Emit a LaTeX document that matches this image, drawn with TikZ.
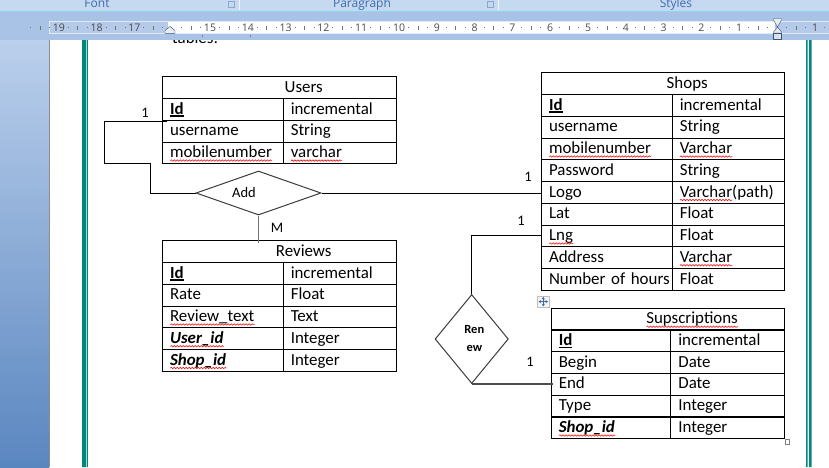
\documentclass[tikz,border=0pt]{standalone}
\usepackage{fontspec}
\setmainfont{Carlito}
\newfontfamily\uifont{Open Sans}
\usepackage{tikz}
\usetikzlibrary{shapes.geometric,decorations.pathmorphing,arrows.meta}

\definecolor{ribbon}{HTML}{C5D9F1}
\definecolor{rulerband}{HTML}{A9C3E6}
\definecolor{rulergray}{HTML}{B4CAE8}
\definecolor{cyanline}{HTML}{8FD6EC}
\definecolor{uiblue}{HTML}{3F6BAA}
\definecolor{deskhi}{HTML}{BBD0EC}
\definecolor{desklo}{HTML}{5A86C0}
\definecolor{pageteal}{HTML}{00897B}
\definecolor{diagray}{HTML}{3C3C3C}

\newcommand\tabfont{\fontsize{16.9pt}{20pt}\selectfont}
\newcommand\lblfont{\fontsize{14.5pt}{17pt}\selectfont}
\newlength\wavylen
\newcommand\wavy[1]{\settowidth\wavylen{#1}\rlap{\tikz[baseline=0pt]\draw[red,line width=.55pt,decorate,decoration={snake,amplitude=.75pt,segment length=3pt}] (0pt,-3pt) -- (\wavylen,-3pt);}#1}
\newcommand\pk[1]{\settowidth\wavylen{\textbf{#1}}\rlap{\rule[-2.6pt]{\wavylen}{1.3pt}}\textbf{#1}}
\newcommand\fk[1]{\wavy{\textbf{\textit{#1}}}}

\begin{document}
\begin{tikzpicture}[x=1pt,y=-1pt,
  head/.style={draw,line width=1.1pt,anchor=north west,minimum height=21.75pt,inner sep=0pt},
  cell/.style={draw,line width=1.1pt,anchor=north west,minimum height=21.75pt,inner xsep=7.5pt,inner ysep=0pt,text height=12.5pt,text depth=3.3pt,align=left,font=\tabfont},
  title/.style={inner sep=0pt,text height=12.5pt,text depth=3.3pt,font=\tabfont},
  rel/.style={diamond,draw=diagray,line width=1pt,inner sep=0pt},
  lbl/.style={inner sep=0pt,font=\lblfont},
  link/.style={line width=1pt},
  rulernum/.style={inner sep=0pt,font=\uifont\fontsize{10.5pt}{12pt}\selectfont,text=black!70}]

\useasboundingbox (0,0) rectangle (829,467);

    % Word window
	\fill [ribbon] (0,0) rectangle (829,10.5);
	\draw [white!70!ribbon] (239.5,0) -- (239.5,10) (498.5,0) -- (498.5,10);
	\node [anchor=base,inner sep=0pt,font=\uifont\fontsize{12pt}{14pt}\selectfont,text=uiblue] at (97,7.5) (grp-font) {Font};
	\node [anchor=base,inner sep=0pt,font=\uifont\fontsize{12pt}{14pt}\selectfont,text=uiblue] at (362,7.5) (grp-para) {Paragraph};
	\node [anchor=base,inner sep=0pt,font=\uifont\fontsize{12pt}{14pt}\selectfont,text=uiblue] at (676,7.5) (grp-styles) {Styles};
	\draw [uiblue!60] (228.5,1.5) rectangle (234.5,7.5) (487.5,1.5) rectangle (493.5,7.5);
	\fill [rulerband] (0,10.5) rectangle (829,40);
	\draw [cyanline,line width=1.2pt] (0,11.6) -- (829,11.6);

    % Ruler
	\fill [rulergray] (49,21.5) rectangle (829,33.5);
	\fill [white] (168,21.5) rectangle (775,33.5);
	\draw [white!60!rulergray] (49,21.5) rectangle (829,33.5);
	\foreach \n in {1,...,15,17,18,19}
	  \node [rulernum] at (777-37.8*\n,27.5) (ruler-\n) {\n};
	\node [rulernum] at (815,27.5) (ruler-r1) {1};
	\foreach \n in {0,...,19} {
	  \draw [black!55,line width=.8pt] (777-37.8*\n-18.9,25.5) -- ++(0,4);
	  \draw [black!55,line width=.8pt] (777-37.8*\n-9.45,26.8) -- ++(0,1.5);
	  \draw [black!55,line width=.8pt] (777-37.8*\n-28.35,26.8) -- ++(0,1.5);
	}
	\draw [black!55,line width=.8pt] (786.5,26.8) -- ++(0,1.5) (796.5,25.5) -- ++(0,4) (805.5,26.8) -- ++(0,1.5) (824.5,26.8) -- ++(0,1.5);
	\draw [black!50,line width=.8pt] (202,34.5) -- ++(0,2.5) (250,34.5) -- ++(0,2.5);
	\filldraw [fill=black!8,draw=uiblue!80!black] (165,33.3) -- (165,30.5) -- (170,26.5) -- (175,30.5) -- (175,33.3) -- cycle;
	\filldraw [fill=black!8,draw=uiblue!80!black] (773.5,18.5) -- (781.5,18.5) -- (781.5,20) -- (777.5,27) -- (781.5,32) -- (781.5,33) -- (773.5,33) -- (773.5,32) -- (777.5,27) -- (773.5,20) -- cycle;
	\filldraw [fill=black!12,draw=uiblue!80!black] (773.5,33) rectangle (781.5,39);

    % Page
	\fill [white] (49,40) rectangle (829,467);
	\shade [top color=deskhi,bottom color=desklo] (0,40) rectangle (49,467);
	\draw [black!45] (49,40) -- (49,467);
	\fill [pageteal] (82,40) rectangle (86,467) (86.8,40) rectangle (87.8,467);
	\fill [pageteal] (806,40) rectangle (807.5,467) (809,40) rectangle (811.5,467);
	\begin{scope}
	  \clip (49,40) rectangle (829,467);
	  \node [anchor=base west,inner sep=0pt,text height=3pt,text depth=0pt,font=\tabfont] at (172,43.5) (intro) {tables:};
	\end{scope}

    % Users
	\node [head,minimum width=234.3pt] at (162,76.3) (users) {};
	\node [title] at ([xshift=24pt]users.center) (users-name) {Users};
	\foreach \k/\v [count=\i] in {{\pk{Id}}/incremental,username/String,{\wavy{mobilenumber}}/{\wavy{varchar}}} {
	  \node [cell,text width=105.7pt] at (162,76.3+21.75*\i) (users-\i-k) {\mbox{\k}};
	  \node [cell,text width=98.6pt] at (282.7,76.3+21.75*\i) (users-\i-v) {\mbox{\v}};
	}

    % Reviews
	\node [head,minimum width=234.3pt] at (162,240.3) (reviews) {};
	\node [title] at ([xshift=24pt]reviews.center) (reviews-name) {Reviews};
	\foreach \k/\v [count=\i] in {{\pk{Id}}/incremental,Rate/Float,{\wavy{Review\_text}}/Text,{\fk{User\_id}}/Integer,{\fk{Shop\_id}}/Integer} {
	  \node [cell,text width=105.7pt] at (162,240.3+21.75*\i) (reviews-\i-k) {\mbox{\k}};
	  \node [cell,text width=98.6pt] at (282.7,240.3+21.75*\i) (reviews-\i-v) {\mbox{\v}};
	}

    % Shops
	\node [head,minimum width=243.3pt] at (541,72.3) (shops) {};
	\node [title] at ([xshift=24pt]shops.center) (shops-name) {Shops};
	\foreach \k/\v [count=\i] in {{\pk{Id}}/incremental,username/String,{\wavy{mobilenumber}}/{\wavy{Varchar}},Password/String,Logo/{\wavy{Varchar}(path)},Lat/Float,{\wavy{Lng}}/Float,Address/{\wavy{Varchar}},Number of hours/Float} {
	  \node [cell,text width=115.7pt] at (541,72.3+21.75*\i) (shops-\i-k) {\mbox{\k}};
	  \node [cell,text width=97.6pt] at (671.7,72.3+21.75*\i) (shops-\i-v) {\mbox{\v}};
	}

    % Supscriptions
	\node [head,minimum width=233.6pt] at (550.7,307.7) (sups) {};
	\node [title] at ([xshift=24pt]sups.center) (sups-name) {\wavy{Supscriptions}};
	\foreach \k/\v [count=\i] in {{\pk{Id}}/incremental,Begin/Date,End/Date,Type/Integer,{\fk{Shop\_id}}/Integer} {
	  \node [cell,text width=104.6pt] at (550.7,307.7+21.75*\i) (sups-\i-k) {\mbox{\k}};
	  \node [cell,text width=99pt] at (670.3,307.7+21.75*\i) (sups-\i-v) {\mbox{\v}};
	}
	\node [draw=black!25,fill=black!4,minimum size=11.5pt,inner sep=0pt] at (543.3,301.6) (move-handle) {};
	\draw [uiblue,line width=.8pt,{Stealth[length=2.6pt,width=3.2pt]}-{Stealth[length=2.6pt,width=3.2pt]}] ([xshift=1.2pt]move-handle.west) -- ([xshift=-1.2pt]move-handle.east);
	\draw [uiblue,line width=.8pt,{Stealth[length=2.6pt,width=3.2pt]}-{Stealth[length=2.6pt,width=3.2pt]}] ([yshift=-1.2pt]move-handle.north) -- ([yshift=1.2pt]move-handle.south);
	\node [draw=black!50,fill=white,minimum size=4.5pt,inner sep=0pt] at (787,441.6) (size-handle) {};

    % Relations
	\node [rel,minimum width=125pt,minimum height=44pt] at (258.5,193) (add) {};
	\node [lbl] at (244,193) (add-text) {Add};
	\node [rel,minimum width=73.3pt,minimum height=89pt] at (471.7,339) (renew) {};
	\node [lbl,align=center,font=\fontsize{12.5pt}{18.4pt}\selectfont\bfseries] at (474.3,338.5) (renew-text) {Ren\\ew};

	% Relation edges
	\coordinate (users-link) at ([shift={(4.7,1.2)}]users-2-k.north west);
	\draw [link] (users-link) -- (104.3,121) |- (150.3,163.3) |- (add.west);
	\draw [link] (add.east) -- (add.east -| shops-5-k.west);
	\draw [link,black!55,line width=1.3pt] (add.south) -- (add.south |- reviews.north) -- ++(0,3);
	\draw [link] (shops-7-k.west) -| (renew.north);
	\draw [link,black!70,line width=1.2pt] (renew.south) -- (renew.south -| sups-3-k.west) -- ++(2,0);

	% Cardinalities
	\node [lbl] at (145,113) (card-users) {1};
	\node [lbl] at (277,228) (card-reviews) {M};
	\node [lbl] at (528,177) (card-logo) {1};
	\node [lbl] at (521,221) (card-lng) {1};
	\node [lbl] at (530,361.7) (card-end) {1};

\end{tikzpicture}
\end{document}
